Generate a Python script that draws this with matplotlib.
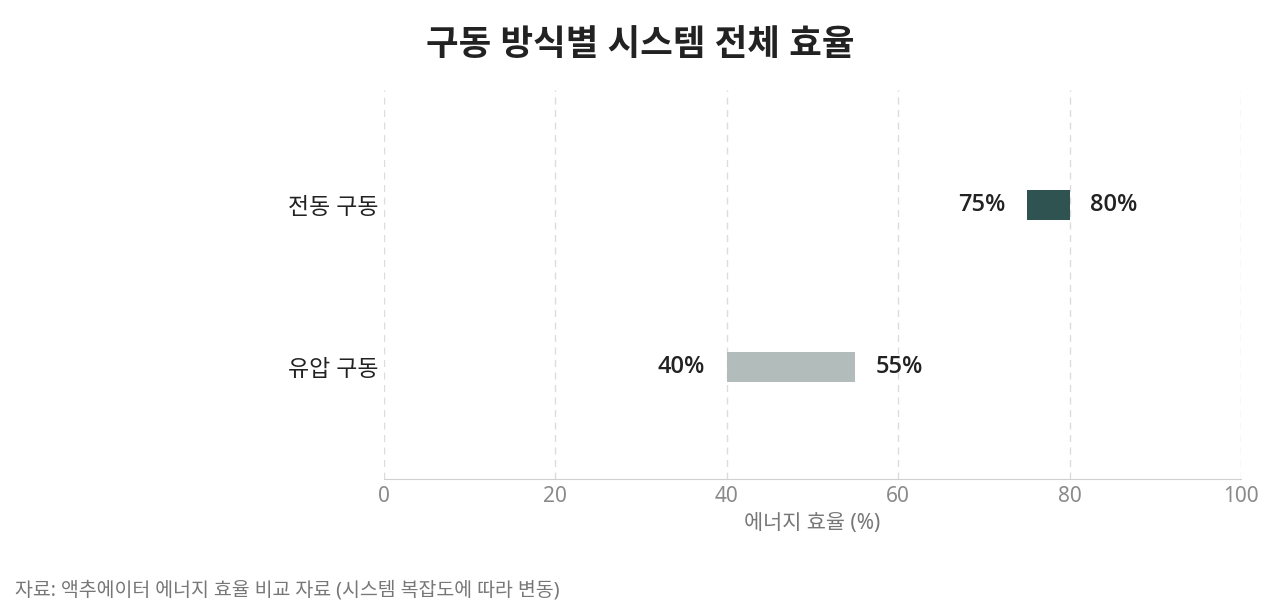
import matplotlib
matplotlib.use("Agg")
import matplotlib.pyplot as plt

plt.rcParams['font.family'] = ['Noto Sans', 'Noto Sans CJK KR', 'DejaVu Sans']

# 데이터
categories = ["유압 구동", "전동 구동"]
eff_min = [40, 75]
eff_max = [55, 80]
colors = ["#b2bcbb", "#2f5351"]
xticks = [0, 20, 40, 60, 80, 100]

fig = plt.figure(figsize=(12.8, 6.15), dpi=100)
ax = fig.add_axes([0.3, 0.2211, 0.6695, 0.6326])

ypos = list(range(len(categories)))
widths = [b - a for a, b in zip(eff_min, eff_max)]
ax.barh(ypos, widths, left=eff_min, height=0.185, color=colors, zorder=3)

vfam = ['Open Sans', 'Noto Sans CJK KR', 'DejaVu Sans']
for y, lo, hi in zip(ypos, eff_min, eff_max):
    ax.text(lo - 2.5, y, f"{lo}%", ha="right", va="center", family=vfam,
            fontsize=17, fontweight="semibold", color="#222222")
    ax.text(hi + 2.4, y, f"{hi}%", ha="left", va="center", family=vfam,
            fontsize=17, fontweight="semibold", color="#222222")

ax.set_xlim(0, 100)
ax.set_ylim(-0.69, 1.71)
ax.set_xticks(xticks)
ax.set_xticklabels([str(t) for t in xticks], fontsize=15, color="#8a8a8a")
ax.set_yticks(ypos)
ax.set_yticklabels(categories, fontsize=16.5, color="#222222")
ax.tick_params(axis="both", length=0, pad=5)
ax.tick_params(axis="y", pad=4)

ax.grid(axis="x", linestyle=(0, (5, 4)), color="#dcdcdc", linewidth=1, zorder=0)
for s in ["top", "right", "left"]:
    ax.spines[s].set_visible(False)
ax.spines["bottom"].set_color("#d0d0d0")

ax.set_xlabel("에너지 효율 (%)", fontsize=15, color="#777777", labelpad=4)

fig.text(0.5, 0.926, "구동 방식별 시스템 전체 효율", ha="center", va="center",
         fontsize=25.5, fontweight="bold", color="#222222")
fig.text(0.012, 0.04, "자료: 액추에이터 에너지 효율 비교 자료 (시스템 복잡도에 따라 변동)",
         ha="left", va="center", fontsize=14, color="#777777")

fig.savefig("out.png", dpi=100)
